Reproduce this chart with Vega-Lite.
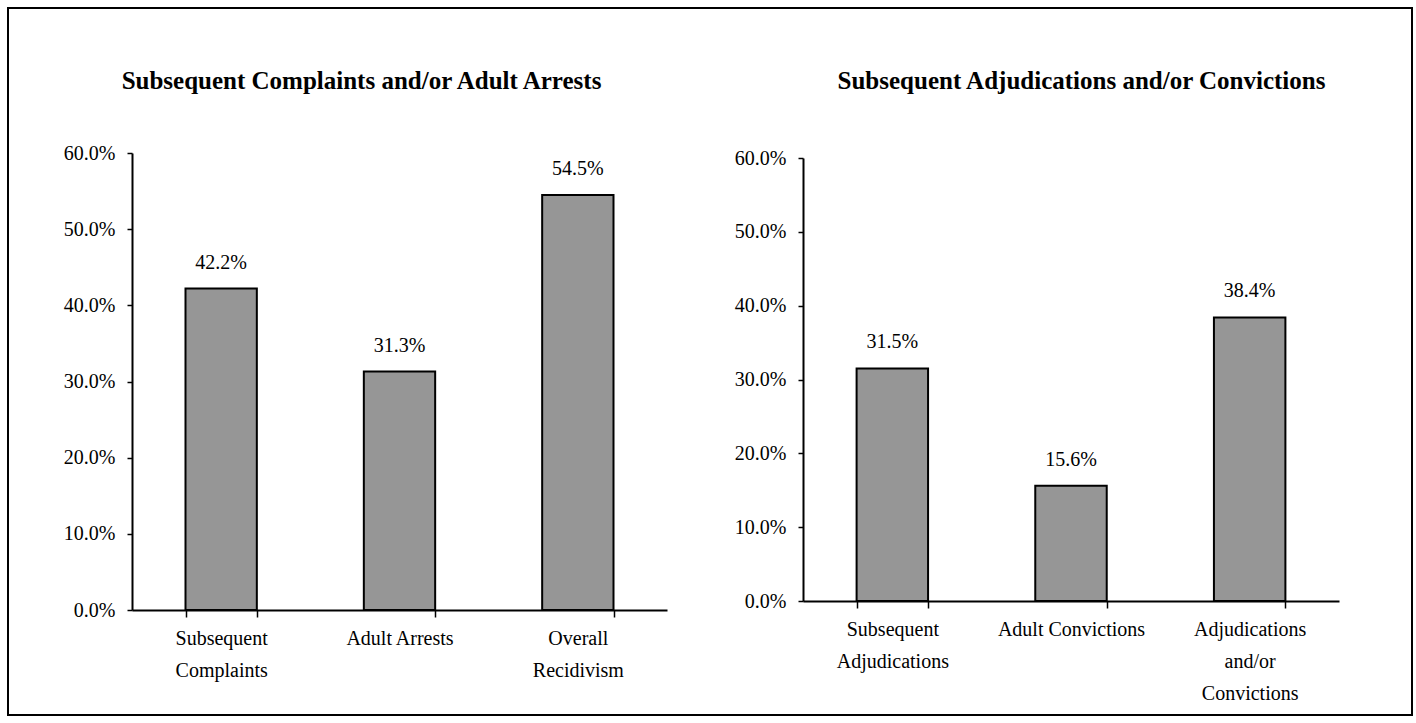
{
  "$schema": "https://vega.github.io/schema/vega-lite/v6.json",
  "autosize": {"type": "none"},
  "padding": {"left": 8, "top": 8, "right": 4, "bottom": 8},
  "width": 1404,
  "height": 707,
  "background": "white",
  "config": {
    "view": {"stroke": "black", "strokeWidth": 2},
    "font": "Liberation Serif",
    "axis": {
      "grid": false,
      "domainColor": "black",
      "domainWidth": 2,
      "tickColor": "black",
      "tickWidth": 1.5,
      "labelFont": "Liberation Serif",
      "labelColor": "black",
      "labelFontSize": 20,
      "titleFont": "Liberation Serif",
      "titleColor": "black"
    }
  },
  "datasets": {
    "left": [
      {"category": "Subsequent Complaints", "rate": 0.422},
      {"category": "Adult Arrests", "rate": 0.313},
      {"category": "Overall Recidivism", "rate": 0.545}
    ],
    "right": [
      {"category": "Subsequent Adjudications", "rate": 0.315},
      {"category": "Adult Convictions", "rate": 0.156},
      {"category": "Adjudications and/or Convictions", "rate": 0.384}
    ]
  },
  "layer": [
    {
      "data": {"name": "left"},
      "encoding": {
        "x": {
          "field": "category",
          "type": "nominal",
          "sort": null,
          "scale": {"range": [124, 659], "paddingInner": 0.6, "paddingOuter": 0.3},
          "axis": {
            "orient": "bottom",
            "title": null,
            "labelAngle": 0,
            "offset": -105,
            "tickSize": 7,
            "tickBand": "extent",
            "labelPadding": 11,
            "labelLineHeight": 32,
            "labelBaseline": "top",
            "labelExpr": "datum.label == 'Subsequent Complaints' ? ['Subsequent', 'Complaints'] : datum.label == 'Overall Recidivism' ? ['Overall', 'Recidivism'] : datum.label"
          }
        },
        "y": {
          "field": "rate",
          "type": "quantitative",
          "scale": {"domain": [0, 0.6], "range": [602, 145], "nice": false},
          "axis": {
            "orient": "left",
            "values": [0, 0.1, 0.2, 0.3, 0.4, 0.5, 0.6],
            "format": ".1%",
            "offset": -124,
            "tickSize": 5,
            "labelPadding": 12,
            "title": "Subsequent Complaints and/or Adult Arrests",
            "titleAngle": 0,
            "titleAlign": "center",
            "titleBaseline": "middle",
            "titleX": 229,
            "titleY": 72,
            "titleFontSize": 25,
            "titleFontWeight": "bold"
          }
        }
      },
      "layer": [
        {"mark": {"type": "bar", "fill": "#969696", "stroke": "black", "strokeWidth": 2}},
        {
          "mark": {"type": "text", "dy": -20, "baseline": "alphabetic", "fontSize": 20, "font": "Liberation Serif", "color": "black"},
          "encoding": {"text": {"field": "rate", "type": "quantitative", "format": ".1%"}}
        }
      ]
    },
    {
      "data": {"name": "right"},
      "encoding": {
        "x": {
          "field": "category",
          "type": "nominal",
          "sort": null,
          "scale": {"range": [795, 1331], "paddingInner": 0.6, "paddingOuter": 0.3},
          "axis": {
            "orient": "bottom",
            "title": null,
            "labelAngle": 0,
            "offset": -114,
            "tickSize": 7,
            "tickBand": "extent",
            "labelPadding": 11,
            "labelLineHeight": 32,
            "labelBaseline": "top",
            "labelExpr": "datum.label == 'Subsequent Adjudications' ? ['Subsequent', 'Adjudications'] : datum.label == 'Adjudications and/or Convictions' ? ['Adjudications', 'and/or', 'Convictions'] : datum.label"
          }
        },
        "y": {
          "field": "rate",
          "type": "quantitative",
          "scale": {"domain": [0, 0.6], "range": [593, 150], "nice": false},
          "axis": {
            "orient": "left",
            "values": [0, 0.1, 0.2, 0.3, 0.4, 0.5, 0.6],
            "format": ".1%",
            "offset": -795,
            "tickSize": 5,
            "labelPadding": 12,
            "title": "Subsequent Adjudications and/or Convictions",
            "titleAngle": 0,
            "titleAlign": "center",
            "titleBaseline": "middle",
            "titleX": 278,
            "titleY": 72,
            "titleFontSize": 25,
            "titleFontWeight": "bold"
          }
        }
      },
      "layer": [
        {"mark": {"type": "bar", "fill": "#969696", "stroke": "black", "strokeWidth": 2}},
        {
          "mark": {"type": "text", "dy": -20, "baseline": "alphabetic", "fontSize": 20, "font": "Liberation Serif", "color": "black"},
          "encoding": {"text": {"field": "rate", "type": "quantitative", "format": ".1%"}}
        }
      ]
    }
  ],
  "resolve": {
    "scale": {"x": "independent", "y": "independent"},
    "axis": {"x": "independent", "y": "independent"}
  }
}
